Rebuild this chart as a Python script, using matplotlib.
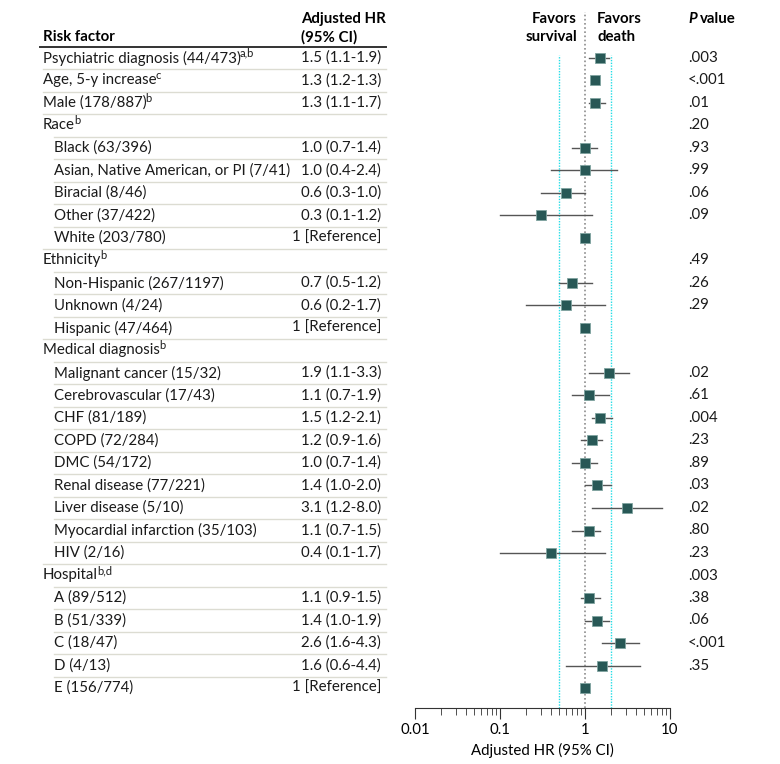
import matplotlib
matplotlib.use("Agg")
import matplotlib.pyplot as plt
from matplotlib.ticker import FixedLocator, LogLocator, NullFormatter

plt.rcParams["font.family"] = ["Lato", "DejaVu Sans"]
plt.rcParams["font.size"] = 10.8

# ---- data ----
labels = [
    "Psychiatric diagnosis (44/473)", "Age, 5-y increase", "Male (178/887)",
    "Race", "Black (63/396)", "Asian, Native American, or PI (7/41)",
    "Biracial (8/46)", "Other (37/422)", "White (203/780)",
    "Ethnicity", "Non-Hispanic (267/1197)", "Unknown (4/24)", "Hispanic (47/464)",
    "Medical diagnosis", "Malignant cancer (15/32)", "Cerebrovascular (17/43)",
    "CHF (81/189)", "COPD (72/284)", "DMC (54/172)", "Renal disease (77/221)",
    "Liver disease (5/10)", "Myocardial infarction (35/103)", "HIV (2/16)",
    "Hospital", "A (89/512)", "B (51/339)", "C (18/47)", "D (4/13)", "E (156/774)",
]
sups = ["a,b", "c", "b", "b", "", "", "", "", "", "b", "", "", "", "b",
        "", "", "", "", "", "", "", "", "", "b,d", "", "", "", "", ""]
indent = [0, 0, 0, 0, 1, 1, 1, 1, 1, 0, 1, 1, 1, 0,
          1, 1, 1, 1, 1, 1, 1, 1, 1, 0, 1, 1, 1, 1, 1]
hr_text = ["1.5 (1.1-1.9)", "1.3 (1.2-1.3)", "1.3 (1.1-1.7)", "",
           "1.0 (0.7-1.4)", "1.0 (0.4-2.4)", "0.6 (0.3-1.0)", "0.3 (0.1-1.2)",
           "1 [Reference]", "", "0.7 (0.5-1.2)", "0.6 (0.2-1.7)", "1 [Reference]",
           "", "1.9 (1.1-3.3)", "1.1 (0.7-1.9)", "1.5 (1.2-2.1)", "1.2 (0.9-1.6)",
           "1.0 (0.7-1.4)", "1.4 (1.0-2.0)", "3.1 (1.2-8.0)", "1.1 (0.7-1.5)",
           "0.4 (0.1-1.7)", "", "1.1 (0.9-1.5)", "1.4 (1.0-1.9)", "2.6 (1.6-4.3)",
           "1.6 (0.6-4.4)", "1 [Reference]"]
hr = [1.5, 1.3, 1.3, None, 1.0, 1.0, 0.6, 0.3, 1.0, None, 0.7, 0.6, 1.0,
      None, 1.9, 1.1, 1.5, 1.2, 1.0, 1.4, 3.1, 1.1, 0.4, None,
      1.1, 1.4, 2.6, 1.6, 1.0]
lo = [1.1, 1.2, 1.1, None, 0.7, 0.4, 0.3, 0.1, None, None, 0.5, 0.2, None,
      None, 1.1, 0.7, 1.2, 0.9, 0.7, 1.0, 1.2, 0.7, 0.1, None,
      0.9, 1.0, 1.6, 0.6, None]
hi = [1.9, 1.4, 1.7, None, 1.4, 2.4, 1.0, 1.2, None, None, 1.2, 1.7, None,
      None, 3.3, 1.9, 2.1, 1.6, 1.4, 2.0, 8.0, 1.5, 1.7, None,
      1.5, 1.9, 4.3, 4.4, None]
pvals = [".003", "<.001", ".01", ".20", ".93", ".99", ".06", ".09", "",
         ".49", ".26", ".29", "", "", ".02", ".61", ".004", ".23", ".89",
         ".03", ".02", ".80", ".23", ".003", ".38", ".06", "<.001", ".35", ""]
xticks = [0.01, 0.1, 1, 10]
xtick_labels = ["0.01", "0.1", "1", "10"]

# ---- layout (pixels) ----
W, H = 780, 764
row0, rowh = 58, 22.5
top_px, bot_px = 8, 708


def ry(px):
    return (px - row0) / rowh


fig = plt.figure(figsize=(W / 100, H / 100), dpi=100)
b = (H - bot_px) / H
h = (bot_px - top_px) / H

tab = fig.add_axes([0, b, 1, h])
tab.set_xlim(0, W)
tab.set_ylim(ry(bot_px), ry(top_px))
tab.axis("off")

ax = fig.add_axes([415 / W, b, 255 / W, h])
ax.set_xscale("log")
ax.set_xlim(0.01, 10)
ax.set_ylim(ry(bot_px), ry(top_px))
ax.patch.set_alpha(0)
for s in ["top", "right", "left"]:
    ax.spines[s].set_visible(False)
ax.spines["bottom"].set_color("#333333")
ax.set_yticks([])
ax.xaxis.set_major_locator(FixedLocator(xticks))
ax.set_xticklabels(xtick_labels, fontsize=10.8)
ax.xaxis.set_minor_locator(LogLocator(base=10, subs=range(2, 10)))
ax.xaxis.set_minor_formatter(NullFormatter())
ax.tick_params(axis="x", which="major", length=8, color="#333333", pad=3)
ax.tick_params(axis="x", which="minor", length=5, color="#333333")
ax.set_xlabel("Adjusted HR (95% CI)", fontsize=10.8, labelpad=4)

# reference lines
ax.axvline(1, ymin=0, ymax=(bot_px - 12) / (bot_px - top_px), color="#8c8c8c",
           ls=(0, (1, 1.5)), lw=1.2, zorder=1)
for v in [0.5, 2]:
    ax.axvline(v, ymin=0, ymax=(bot_px - 55) / (bot_px - top_px), color="#22dde6",
               ls=(0, (1, 1)), lw=1.0, zorder=1)

# header
hdr_y1, hdr_y2 = ry(19), ry(37)
tab.text(43, hdr_y2, "Risk factor", fontweight="bold", va="center", ha="left")
tab.text(301, hdr_y1, "Adjusted HR", fontweight="bold", va="center", ha="left")
tab.text(301, hdr_y2, "(95% CI)", fontweight="bold", va="center", ha="left")
tab.text(577, hdr_y1, "Favors", fontweight="bold", va="center", ha="right")
tab.text(577, hdr_y2, "survival", fontweight="bold", va="center", ha="right")
tab.text(597, hdr_y1, "Favors", fontweight="bold", va="center", ha="left")
tab.text(597, hdr_y2, "death", fontweight="bold", va="center", ha="left")
ptxt = tab.text(688, hdr_y1, "P", fontweight="bold", fontstyle="italic",
                va="center", ha="left")
tab.plot([40, 386], [ry(47), ry(47)], color="#333333", lw=1.4)

fig.canvas.draw()
renderer = fig.canvas.get_renderer()
inv = tab.transData.inverted()
ext = ptxt.get_window_extent(renderer)
px_end = inv.transform((ext.x1, 0))[0]
tab.text(px_end + 3, hdr_y1, "value", fontweight="bold", va="center", ha="left")

# rows
for i, lab in enumerate(labels):
    x0 = 54 if indent[i] else 43
    t = tab.text(x0, i, lab, va="center", ha="left", color="#1a1a1a")
    if sups[i]:
        e = t.get_window_extent(renderer)
        xe = inv.transform((e.x1, 0))[0]
        tab.text(xe - 1, i - 0.22, sups[i], va="center", ha="left",
                 fontsize=8, color="#1a1a1a")
    if hr_text[i]:
        tab.text(381, i, hr_text[i], va="center", ha="right", color="#1a1a1a")
    if pvals[i]:
        tab.text(688, i, pvals[i], va="center", ha="left", color="#1a1a1a")
    if i > 0:
        tab.plot([x0, 386], [i - 0.5, i - 0.5], color="#dcdcd2", lw=1.0)

# forest marks
for i in range(len(labels)):
    if hr[i] is None:
        continue
    if lo[i] is not None:
        ax.plot([lo[i], hi[i]], [i, i], color="#555555", lw=1.0, zorder=2)
    ax.plot(hr[i], i, marker="s", markersize=7.5, color="#285856",
            markeredgecolor="#7fa3a0", markeredgewidth=0.6, zorder=3)

fig.savefig("out.png", dpi=100)
